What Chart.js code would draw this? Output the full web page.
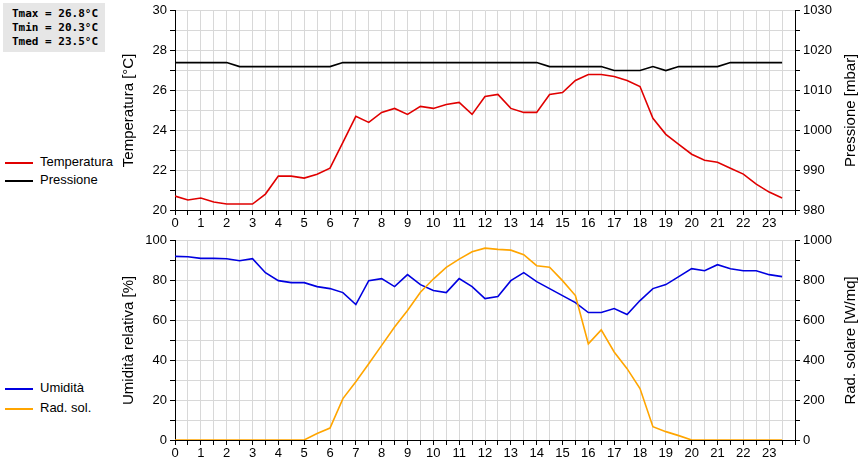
<!DOCTYPE html>
<html><head><meta charset="utf-8">
<script src="https://cdn.jsdelivr.net/npm/chart.js@4"></script>
<style>
body{margin:0;background:#fff;width:860px;height:460px;position:relative;font-family:"Liberation Sans",Arial,sans-serif;overflow:hidden}
.c{position:absolute;left:0;width:860px;height:230px}
#stats{position:absolute;left:3px;top:3px;width:102px;height:49px;background:#e6e6e6;font:bold 11px "DejaVu Sans Mono",monospace;line-height:14px;padding:4px 0 0 9px;box-sizing:border-box;white-space:pre}
.lg{position:absolute;left:5px;font-size:13px;height:16px;line-height:16px}
.lg span{display:inline-block;width:28px;height:2px;vertical-align:middle;margin-right:7px}
</style></head><body>
<div id="stats">Tmax = 26.8°C
Tmin = 20.3°C
Tmed = 23.5°C</div>
<div class="lg" style="top:154px"><span style="background:#e00000"></span>Temperatura</div>
<div class="lg" style="top:172px"><span style="background:#000"></span>Pressione</div>
<div class="lg" style="top:380px"><span style="background:#0000e0"></span>Umidità</div>
<div class="lg" style="top:400px"><span style="background:#ffa500"></span>Rad. sol.</div>
<div class="c" style="top:0"><canvas id="c1" width="860" height="230"></canvas></div>
<div class="c" style="top:230px"><canvas id="c2" width="860" height="230"></canvas></div>
<script>
const hours = [0,0.5,1,1.5,2,2.5,3,3.5,4,4.5,5,5.5,6,6.5,7,7.5,8,8.5,9,9.5,10,10.5,11,11.5,12,12.5,13,13.5,14,14.5,15,15.5,16,16.5,17,17.5,18,18.5,19,19.5,20,20.5,21,21.5,22,22.5,23,23.5];
const temperatura = [20.7,20.5,20.6,20.4,20.3,20.3,20.3,20.8,21.7,21.7,21.6,21.8,22.1,23.4,24.7,24.4,24.9,25.1,24.8,25.2,25.1,25.3,25.4,24.8,25.7,25.8,25.1,24.9,24.9,25.8,25.9,26.5,26.8,26.8,26.7,26.5,26.2,24.6,23.8,23.3,22.8,22.5,22.4,22.1,21.8,21.3,20.9,20.6];
const pressione = [1017,1017,1017,1017,1017,1016,1016,1016,1016,1016,1016,1016,1016,1017,1017,1017,1017,1017,1017,1017,1017,1017,1017,1017,1017,1017,1017,1017,1017,1016,1016,1016,1016,1016,1015,1015,1015,1016,1015,1016,1016,1016,1016,1017,1017,1017,1017,1017];
const umidita = [92.2,92,91.2,91.2,91,90,91,84,80,79,79,77,76,74,68,80,81,77,83,78,75,74,81,77,71,72,80,84,79.5,76,72.5,69,64,64,66,63,70,76,78,82,86,85,88,86,85,85,83,82];
const radSolare = [0,0,0,0,0,0,0,0,0,0,0,33,60,208,292,383,475,567,650,742,808,867,908,945,963,957,953,930,875,867,800,725,483,553,442,358,258,67,42,22,0,0,0,0,0,0,0,0];

const font = {family:'"Liberation Sans",Arial,sans-serif', size:13};
Chart.defaults.font = font; Chart.defaults.color = '#000';
function pts(a){return hours.map((h,i)=>({x:h,y:a[i]}));}
function ds(a,c,axis){return {data:pts(a),borderColor:c,borderWidth:1.6,pointRadius:0,tension:0,yAxisID:axis,fill:false};}
function xAxis(){return {type:'linear',min:0,max:24,afterFit:s=>{s.height=20;},
  grid:{color:'#d8d8d8',drawTicks:true,tickLength:5,tickColor:'#000'},border:{color:'#000'},
  ticks:{stepSize:0.5,autoSkip:false,maxRotation:0,padding:1,callback:v=>(Number.isInteger(v)&&v<24)?v:''}};}
function leftAxis(min,max,step,lab,title){return {position:'left',min,max,afterFit:s=>{s.width=55;},
  grid:{color:'#d8d8d8',tickLength:5,tickColor:'#000'},border:{color:'#000'},
  ticks:{stepSize:step,autoSkip:false,padding:3,callback:v=>(Math.round(v/lab)*lab===v)?v:''},
  title:{display:true,text:title,font:{size:15},padding:0}};}
function rightAxis(min,max,step,lab){return {position:'right',min,max,afterFit:s=>{s.width=62;},
  grid:{drawOnChartArea:false,tickLength:5,tickColor:'#000'},border:{color:'#000'},
  ticks:{stepSize:step,autoSkip:false,padding:3,callback:v=>(Math.round(v/lab)*lab===v)?v:''}};}
const rightTitle = {id:'rt',afterDraw(chart,args,opts){const c=chart.ctx,a=chart.chartArea;c.save();
  c.translate(851,(a.top+a.bottom)/2);c.rotate(-Math.PI/2);c.font='15px "Liberation Sans",Arial,sans-serif';
  c.fillStyle='#000';c.textAlign='center';c.textBaseline='middle';c.fillText(opts.text,0,0);c.restore();}};
const common = {responsive:false,animation:false};
new Chart(document.getElementById('c1'),{type:'line',plugins:[rightTitle],
  data:{datasets:[ds(pressione,'#000','y2'),ds(temperatura,'#e00000','y')]},
  options:{...common,plugins:{legend:{display:false},tooltip:{enabled:false},rt:{text:'Pressione [mbar]'}},
    layout:{padding:{left:120,right:3,top:10,bottom:0}},
    scales:{x:xAxis(),y:leftAxis(20,30,1,2,'Temperatura [°C]'),y2:rightAxis(980,1030,5,10)}}});
new Chart(document.getElementById('c2'),{type:'line',plugins:[rightTitle],
  data:{datasets:[ds(radSolare,'#ffa500','y2'),ds(umidita,'#0000e0','y')]},
  options:{...common,plugins:{legend:{display:false},tooltip:{enabled:false},rt:{text:'Rad. solare [W/mq]'}},
    layout:{padding:{left:120,right:3,top:10,bottom:0}},
    scales:{x:xAxis(),y:leftAxis(0,100,10,20,'Umidità relativa [%]'),y2:rightAxis(0,1000,100,200)}}});
</script></body></html>
